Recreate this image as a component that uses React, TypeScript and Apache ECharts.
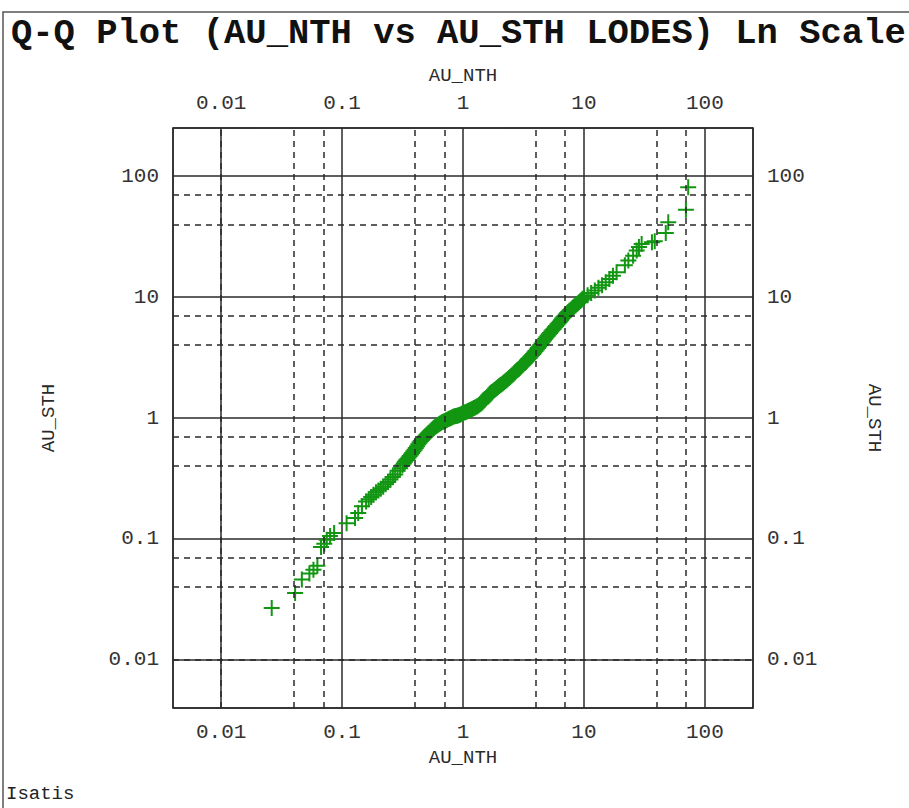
import React, { useEffect, useRef } from "react";
import * as echarts from "echarts";

// Quantiles (sparse tails + main band)
const auNth = [
  0.0262, 0.0409, 0.0465, 0.0537, 0.058, 0.0625, 0.067, 0.0713, 0.0747, 0.0796, 0.086, 0.109, 0.128, 0.136, 0.146, 0.158,
  0.166, 0.174, 0.182, 0.191, 0.2, 0.209, 0.219, 0.229, 0.24, 0.251, 0.263, 0.275, 0.288, 0.302, 0.316, 0.331, 0.347, 0.363,
  0.38, 0.398, 0.417, 0.437, 0.457, 0.479, 0.501, 0.525, 0.55, 0.575, 0.603, 0.631, 0.661, 0.692, 0.724, 0.759, 0.794, 0.832,
  0.871, 0.912, 0.955, 1.0, 1.047, 1.096, 1.148, 1.202, 1.259, 1.318, 1.38, 1.445, 1.514, 1.585, 1.66, 1.738, 1.82, 1.905,
  1.995, 2.089, 2.188, 2.291, 2.399, 2.512, 2.63, 2.754, 2.884, 3.02, 3.162, 3.311, 3.467, 3.631, 3.802, 3.981, 4.169, 4.365,
  4.571, 4.786, 5.012, 5.248, 5.495, 5.754, 6.026, 6.31, 6.607, 6.918, 7.244, 7.586, 7.943, 8.318, 8.71, 9.12, 9.55, 10.0,
  10.72, 11.48, 12.3, 13.18, 14.13, 15.14, 16.22, 17.38, 18.62,
  21.8, 23.3, 25.5, 27.3, 28.5, 30.0, 36.5, 38.5, 47.5, 49.8, 69.7, 72.8,
];
const auSth = [
  0.0269, 0.0358, 0.0461, 0.0517, 0.0557, 0.0601, 0.0859, 0.0914, 0.0986, 0.106, 0.112, 0.135, 0.149, 0.164, 0.186, 0.204,
  0.213, 0.222, 0.232, 0.243, 0.252, 0.26, 0.27, 0.283, 0.296, 0.31, 0.325, 0.341, 0.366, 0.385, 0.406, 0.435, 0.459, 0.485,
  0.514, 0.547, 0.585, 0.628, 0.661, 0.693, 0.726, 0.76, 0.794, 0.83, 0.859, 0.889, 0.914, 0.935, 0.957, 0.979, 1.002, 1.026,
  1.038, 1.05, 1.067, 1.099, 1.117, 1.14, 1.167, 1.194, 1.222, 1.253, 1.297, 1.343, 1.413, 1.496, 1.585, 1.644, 1.706, 1.77,
  1.837, 1.905, 1.977, 2.051, 2.138, 2.234, 2.333, 2.438, 2.547, 2.661, 2.786, 2.917, 3.055, 3.221, 3.388, 3.573, 3.784, 4.018,
  4.266, 4.529, 4.786, 5.047, 5.333, 5.623, 5.929, 6.252, 6.637, 6.982, 7.345, 7.709, 8.035, 8.356, 8.71, 9.078, 9.484, 9.863,
  10.33, 10.81, 11.35, 11.94, 12.53, 13.24, 14.13, 15.03, 16.03,
  18.3, 20.1, 22.0, 24.3, 26.0, 27.5, 28.4, 29.0, 33.8, 41.6, 52.6, 80.9,
];
// Further quantiles read inside the dense part of the band
const auNthDense = [
  0.324, 0.339, 0.355, 0.372, 0.389, 0.407, 0.427, 0.447, 0.468, 0.49, 0.513, 0.537, 0.562, 0.589, 0.617, 0.646, 0.676, 0.708,
  0.741, 0.776, 0.813, 0.851, 0.891, 0.933, 0.977, 1.023, 1.072, 1.122, 1.175, 1.23, 1.288, 1.349, 1.413, 1.479, 1.549, 1.622,
  1.698, 1.778, 1.862, 1.95, 2.042, 2.138, 2.239, 2.344, 2.455, 2.57, 2.692, 2.818, 2.951, 3.09, 3.236, 3.388, 3.548, 3.715,
  3.89, 4.074, 4.266, 4.467, 4.677, 4.898, 5.129, 5.37, 5.623, 5.888, 6.166, 6.457, 6.761, 7.079, 7.413, 7.762, 8.128, 8.511,
  8.913, 9.333, 9.772,
];
const auSthDense = [
  0.42, 0.447, 0.472, 0.5, 0.531, 0.566, 0.607, 0.644, 0.678, 0.71, 0.743, 0.778, 0.813, 0.845, 0.875, 0.902, 0.925, 0.946,
  0.968, 0.991, 1.014, 1.032, 1.044, 1.058, 1.083, 1.108, 1.128, 1.153, 1.18, 1.208, 1.237, 1.275, 1.32, 1.377, 1.454, 1.54,
  1.614, 1.675, 1.738, 1.803, 1.871, 1.941, 2.014, 2.094, 2.185, 2.283, 2.385, 2.492, 2.604, 2.723, 2.851, 2.985, 3.137, 3.304,
  3.479, 3.677, 3.899, 4.14, 4.395, 4.656, 4.916, 5.188, 5.476, 5.772, 6.088, 6.442, 6.808, 7.161, 7.524, 7.87, 8.194, 8.531,
  8.892, 9.279, 9.672,
];

const tickValues = [0.01, 0.1, 1, 10, 100];
const tickLabels = ["0.01", "0.1", "1", "10", "100"];
const minorGrid = [0.007, 0.04, 0.07, 0.4, 0.7, 4, 7, 40, 70];

const AXIS_MIN = 0.004;
const AXIS_MAX = 250;
const FONT = '"Liberation Mono", "Courier New", monospace';
const INK = "#2a2a2a";
const GREEN = "#129612";

function fmt(v: number): string {
  const i = tickValues.findIndex((t) => Math.abs(Math.log10(v / t)) < 1e-6);
  return i >= 0 ? tickLabels[i] : "";
}

function makeAxis(position: string, name: string, nameGap: number, isY: boolean, showSplit: boolean) {
  return {
    type: "log",
    logBase: 10,
    position,
    min: AXIS_MIN,
    max: AXIS_MAX,
    name,
    nameLocation: "middle",
    nameGap,
    nameRotate: isY ? (position === "left" ? 90 : -90) : 0,
    nameTextStyle: { fontFamily: FONT, fontSize: 19, color: INK },
    axisLine: { show: true, lineStyle: { color: INK, width: 1.5 } },
    axisTick: { show: false },
    axisLabel: {
      show: true,
      margin: 14,
      fontFamily: FONT,
      fontSize: 21,
      color: "#333",
      formatter: fmt,
    },
    splitLine: { show: showSplit, lineStyle: { color: INK, width: 1.5, type: "solid" } },
    minorTick: { show: false },
    minorSplitLine: { show: false },
  };
}

export default function App() {
  const ref = useRef<HTMLDivElement>(null);
  useEffect(() => {
    document.body.style.margin = "0";
    const chart = echarts.init(ref.current!, null, { renderer: "svg" });
    const points = auNth
      .map((x, i) => [x, auSth[i]])
      .concat(auNthDense.map((x, i) => [x, auSthDense[i]]));
    const dashData: any[] = [];
    minorGrid.forEach((v) => {
      dashData.push({ xAxis: v });
      dashData.push({ yAxis: v });
    });
    chart.setOption({
      animation: false,
      backgroundColor: "#ffffff",
      title: {
        text: "Q-Q Plot (AU_NTH vs AU_STH LODES) Ln Scale",
        left: 11,
        top: 15,
        padding: 0,
        textStyle: { fontFamily: FONT, fontSize: 35.5, fontWeight: "bold", color: "#111" },
      },
      graphic: [
        {
          type: "rect",
          shape: { x: 3, y: 12, width: 930, height: 830 },
          style: { fill: "none", stroke: "#555", lineWidth: 1.5 },
          silent: true,
        },
        {
          type: "text",
          left: 6,
          top: 784,
          style: { text: "Isatis", font: '19px "Liberation Mono", monospace', fill: "#222" },
          silent: true,
        },
      ],
      grid: { left: 173, top: 128, width: 580, height: 580, containLabel: false },
      xAxis: [
        makeAxis("bottom", "AU_NTH", 40, false, true),
        makeAxis("top", "AU_NTH", 43, false, false),
      ],
      yAxis: [
        makeAxis("left", "AU_STH", 115, true, true),
        makeAxis("right", "AU_STH", 111, true, false),
      ],
      series: [
        {
          type: "scatter",
          xAxisIndex: 0,
          yAxisIndex: 0,
          data: [],
          silent: true,
          z: 1,
          markLine: {
            silent: true,
            symbol: "none",
            label: { show: false },
            lineStyle: { color: INK, width: 1.5, type: [6, 5] },
            data: dashData,
          },
        },
        {
          type: "scatter",
          name: "Q-Q",
          xAxisIndex: 0,
          yAxisIndex: 0,
          data: points,
          symbol: "path://M7,0 H9 V7 H16 V9 H9 V16 H7 V9 H0 V7 H7 Z",
          symbolSize: 16,
          itemStyle: { color: GREEN, opacity: 1 },
          z: 3,
        },
      ],
    });
    return () => chart.dispose();
  }, []);
  return <div ref={ref} style={{ width: 909, height: 808 }} />;
}
